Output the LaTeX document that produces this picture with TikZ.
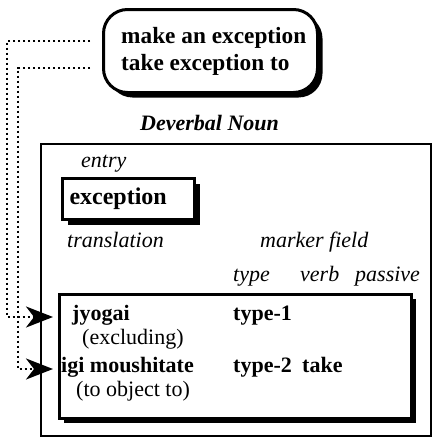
\documentclass[tikz,border=0pt]{standalone}
\usepackage{fontspec}
\setmainfont{Liberation Serif}
\usepackage{tikz}
\usetikzlibrary{arrows.meta,shadows}
\tikzstyle{phrasebox} = [rectangle,
                         rounded corners=24pt,
                         minimum width=214pt,
                         minimum height=83pt,
                         anchor=north west,
                         line width=3pt,
                         draw=black,
                         fill=white,
                         drop shadow={shadow xshift=5pt,
                                      shadow yshift=-5pt,
                                      fill=black,
                                      opacity=1}]
\tikzstyle{framebox} = [rectangle,
                        anchor=north west,
                        line width=1.5pt,
                        draw=black]
\tikzstyle{entrybox} = [rectangle,
                        minimum width=132pt,
                        minimum height=41pt,
                        text width=118pt,
                        inner xsep=7pt,
                        align=left,
                        anchor=north west,
                        line width=3pt,
                        draw=black,
                        fill=white,
                        font=\fontsize{24}{28}\selectfont\bfseries,
                        drop shadow={shadow xshift=5pt,
                                     shadow yshift=-5pt,
                                     fill=black,
                                     opacity=1}]
\tikzstyle{transbox} = [rectangle,
                        minimum width=352pt,
                        minimum height=124pt,
                        anchor=north west,
                        line width=2.5pt,
                        draw=black,
                        fill=white,
                        drop shadow={shadow xshift=5pt,
                                     shadow yshift=-5pt,
                                     fill=black,
                                     opacity=1}]
\tikzstyle{phrase} = [inner sep=0pt,
                      anchor=base west,
                      font=\fontsize{23.3}{27}\selectfont\bfseries]
\tikzstyle{word} = [inner sep=0pt,
                    anchor=base west,
                    font=\fontsize{22}{26}\selectfont\bfseries]
\tikzstyle{gloss} = [inner sep=0pt,
                     anchor=base west,
                     font=\fontsize{22}{26}\selectfont]
\tikzstyle{field} = [inner sep=0pt,
                     anchor=base west,
                     font=\fontsize{22}{26}\selectfont\itshape]
\tikzstyle{heading} = [inner sep=0pt,
                       anchor=base west,
                       font=\fontsize{22}{26}\selectfont\bfseries\itshape]
\tikzstyle{link} = [line width=2.4pt,
                    dash pattern=on 2.4pt off 2.6pt,
                    -{Stealth[length=27pt,width=21pt,inset=8pt]},
                    shorten >=5pt]

\begin{document}
\begin{tikzpicture}[x=1pt,y=-1pt]
    \useasboundingbox (0,0) rectangle (437,439);

    \node (phrases) [phrasebox]                at (102,8)   {};
    \node (make)    [phrase]                   at (121,43)  {make an exception};
    \node (take)    [phrase]                   at (121,70)  {take exception to};

    \node (dnoun)   [heading]                  at (140,130) {Deverbal Noun};
    \node (frame)   [framebox,
                     minimum width=390pt,
                     minimum height=292pt]     at (40,143)  {};

    \node (entry)   [field]                    at (81,167)  {entry};
    \node (headw)   [entrybox]                 at (61,177)  {exception};

    \node (transl)  [field]                    at (67,247)  {translation};
    \node (marker)  [field]                    at (260,247) {marker field};
    \node (type)    [field]                    at (233,281) {type};
    \node (verb)    [field]                    at (300,281) {verb};
    \node (passive) [field]                    at (355,281) {passive};

    \node (tbox)    [transbox]                 at (58,293)  {};
    \node (jyogai)  [word]                     at (72,320)  {jyogai};
    \node (excl)    [gloss]                    at (82,344)  {(excluding)};
    \node (igi)     [word]                     at (61,372)  {igi moushitate};
    \node (object)  [gloss]                    at (76,396)  {(to object to)};
    \node (type1)   [word]                     at (233,320) {type-1};
    \node (type2)   [word]                     at (233,372) {type-2};
    \node (takev)   [word]                     at (302,372) {take};

    \coordinate (outer) at (7,0);
    \coordinate (inner) at (18,0);

    \draw [link] ([xshift=-12pt]phrases.west |- make.mid)
                 -| ([yshift=3pt]outer |- jyogai.base)
                 -- ([yshift=3pt]tbox.west |- jyogai.base);
    \draw [link] ([xshift=-12pt]phrases.west |- take.mid)
                 -| ([yshift=3pt]inner |- igi.base)
                 -- ([yshift=3pt]tbox.west |- igi.base);

  \end{tikzpicture}
\end{document}
